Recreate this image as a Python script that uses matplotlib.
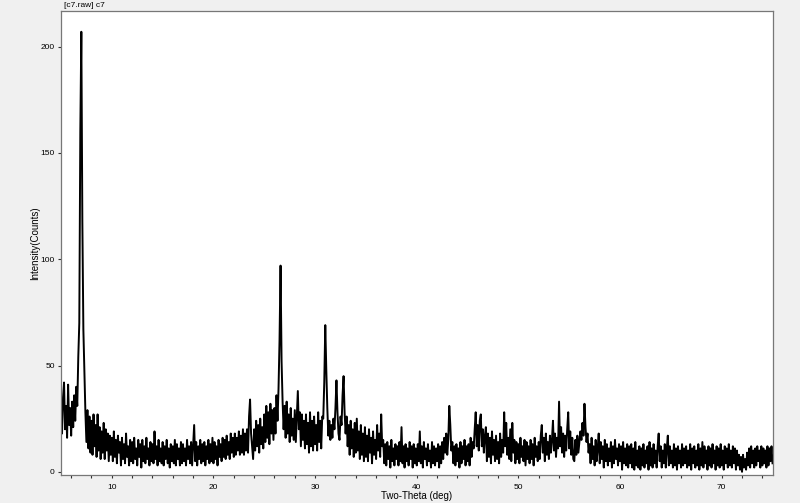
import matplotlib

matplotlib.use("Agg")

import matplotlib.pyplot as plt
import numpy as np
from matplotlib.ticker import MultipleLocator


# ============================================================
# DATA (0.1 deg steps from 5.0 to 75.0)
# ============================================================

TWO_THETA_START = 5.0
TWO_THETA_STEP = 0.1

COUNTS_05_10 = [
    28, 18, 35, 42, 20, 31, 16, 41, 22, 30,      # 5.x
    17, 33, 21, 36, 24, 40, 31, 54, 70, 160,     # 6.x
    207, 118, 67, 47, 28, 14, 29, 11, 26, 9,     # 7.x
    24, 8, 27, 12, 22, 7, 27, 10, 21, 6,         # 8.x
    19, 9, 23, 6, 20, 10, 18, 5, 17, 8,          # 9.x
]

COUNTS_10_20 = [
    16, 5, 19, 7, 15, 4, 17, 9, 14, 3,
    16, 6, 13, 4, 18, 7, 12, 3, 15, 5,
    14, 4, 16, 6, 11, 3, 15, 7, 13, 2,
    15, 5, 12, 4, 16, 6, 11, 3, 14, 5,
    13, 4, 19, 6, 12, 3, 15, 5, 11, 4,
    14, 3, 12, 6, 15, 4, 11, 2, 13, 5,
    12, 4, 15, 3, 13, 6, 11, 3, 14, 4,
    13, 5, 11, 3, 15, 6, 12, 4, 14, 3,
    13, 22, 5, 14, 3, 12, 6, 15, 4, 13,
    5, 14, 3, 12, 6, 15, 4, 13, 5, 16,
]

COUNTS_20_30 = [
    4, 14, 6, 12, 3, 15, 7, 13, 5, 16,
    7, 15, 6, 17, 8, 14, 6, 18, 9, 16,
    7, 18, 8, 16, 10, 19, 8, 17, 9, 20,
    8, 18, 10, 20, 9, 26, 34, 18, 12, 6,
    20, 10, 24, 12, 22, 9, 25, 13, 21, 11,
    27, 14, 31, 16, 28, 13, 32, 18, 29, 15,
    30, 18, 36, 24, 39, 62, 97, 52, 33, 20,
    31, 16, 33, 18, 27, 14, 30, 17, 25, 15,
    29, 14, 26, 38, 20, 28, 12, 27, 15, 24,
    11, 27, 13, 23, 9, 28, 12, 24, 10, 26,
]

COUNTS_30_40 = [
    13, 22, 10, 28, 14, 24, 11, 26, 25, 42,
    69, 48, 30, 17, 24, 15, 22, 16, 25, 20,
    30, 43, 28, 18, 15, 26, 22, 36, 45, 28,
    18, 26, 12, 22, 8, 24, 11, 20, 7, 23,
    9, 25, 10, 19, 6, 22, 8, 18, 5, 21,
    7, 17, 5, 20, 9, 16, 4, 19, 8, 15,
    6, 22, 10, 18, 7, 27, 12, 15, 4, 13,
    3, 14, 6, 12, 2, 15, 5, 11, 3, 13,
    6, 12, 3, 14, 5, 21, 4, 12, 2, 13,
    5, 11, 3, 14, 6, 12, 2, 13, 4, 11,
]

COUNTS_40_50 = [
    3, 13, 5, 19, 4, 12, 2, 14, 6, 11,
    3, 13, 5, 10, 2, 14, 4, 12, 3, 11,
    5, 13, 2, 12, 4, 14, 6, 16, 9, 18,
    8, 15, 31, 22, 10, 14, 4, 12, 3, 13,
    5, 11, 2, 14, 4, 12, 6, 15, 3, 12,
    5, 13, 3, 16, 7, 14, 11, 20, 28, 12,
    22, 10, 24, 27, 12, 20, 9, 17, 21, 5,
    18, 7, 16, 4, 19, 8, 15, 5, 17, 6,
    14, 4, 18, 7, 15, 9, 28, 12, 23, 8,
    16, 6, 20, 5, 23, 9, 15, 4, 14, 6,
]

COUNTS_50_60 = [
    13, 4, 16, 7, 12, 5, 15, 3, 14, 6,
    12, 4, 15, 6, 13, 3, 16, 7, 12, 5,
    14, 6, 17, 22, 9, 16, 5, 18, 8, 14,
    6, 17, 9, 15, 24, 10, 18, 7, 16, 11,
    33, 12, 21, 9, 18, 7, 17, 10, 20, 28,
    11, 19, 8, 16, 6, 5, 15, 8, 17, 9,
    14, 19, 15, 23, 17, 32, 21, 14, 18, 9,
    13, 4, 16, 6, 12, 3, 15, 5, 11, 18,
    4, 14, 6, 12, 2, 15, 5, 13, 3, 11,
    5, 14, 2, 12, 4, 15, 6, 11, 3, 13,
]

COUNTS_60_75 = [
    5, 12, 1, 14, 4, 11, 3, 13, 2, 12,
    4, 13, 2, 11, 1, 14, 3, 10, 2, 12,
    1, 11, 3, 13, 2, 10, 4, 12, 1, 14,
    3, 11, 2, 13, 4, 10, 2, 12, 18, 5,
    12, 2, 10, 4, 13, 2, 11, 17, 3, 12,
    4, 10, 2, 13, 3, 11, 1, 12, 4, 10,
    2, 13, 3, 11, 4, 12, 2, 10, 3, 13,
    1, 11, 4, 12, 2, 10, 3, 13, 1, 11,
    3, 14, 2, 12, 4, 10, 1, 12, 3, 11,
    2, 13, 4, 10, 1, 12, 3, 11, 2, 13,
    3, 10, 1, 12, 4, 11, 2, 13, 3, 10,
    2, 12, 4, 11, 1, 10, 3, 8, 1, 7,
    0, 8, 2, 6, 1, 9, 3, 11, 2, 12,
    4, 10, 2, 11, 3, 12, 5, 10, 2, 12,
    3, 11, 4, 10, 2, 12, 3, 11, 5, 12,
    4,
]

counts = np.array(
    COUNTS_05_10
    + COUNTS_10_20
    + COUNTS_20_30
    + COUNTS_30_40
    + COUNTS_40_50
    + COUNTS_50_60
    + COUNTS_60_75,
    dtype=float,
)

two_theta = TWO_THETA_START + TWO_THETA_STEP * np.arange(len(counts))


# ============================================================
# PLOT
# ============================================================

plt.rcParams["font.family"] = ["Liberation Sans", "DejaVu Sans"]

fig = plt.figure(figsize=(8.0, 5.03), dpi=100, facecolor="#f0f0f0")
ax = fig.add_axes([0.07625, 0.0557, 0.8894, 0.9234])
ax.set_facecolor("white")

ax.plot(two_theta, counts, color="black", linewidth=1.4)

ax.set_xlim(5, 75)
ax.set_ylim(-1.5, 217)

ax.xaxis.set_major_locator(MultipleLocator(10))
ax.xaxis.set_minor_locator(MultipleLocator(2))
ax.yaxis.set_major_locator(MultipleLocator(50))

ax.tick_params(
    axis="both",
    which="both",
    direction="out",
    length=2.5,
    width=0.8,
    color="#333333",
    labelsize=6,
    pad=2,
)
ax.tick_params(axis="x", which="major", pad=4)

for spine in ax.spines.values():
    spine.set_color("#777777")
    spine.set_linewidth(0.9)

ax.set_xlabel("Two-Theta (deg)", fontsize=7, labelpad=0)
ax.set_ylabel("Intensity(Counts)", fontsize=7, labelpad=0.5)

fig.text(
    0.08,
    0.982,
    "[c7.raw] c7",
    fontsize=6,
    ha="left",
    va="bottom",
)

fig.savefig("out.png", dpi=100, facecolor=fig.get_facecolor())
